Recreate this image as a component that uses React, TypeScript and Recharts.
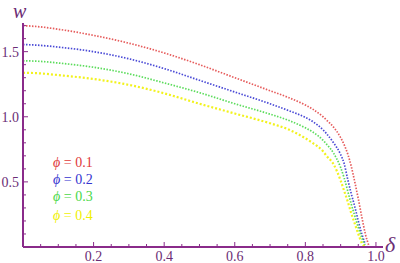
import React from 'react';
import { LineChart, Line, XAxis, YAxis } from 'recharts';

const deltas = [0, 0.05, 0.1, 0.2, 0.3, 0.4, 0.5, 0.6, 0.7, 0.75, 0.8, 0.82, 0.85, 0.86, 0.88, 0.9, 0.91, 0.92, 0.93, 0.94, 0.95, 0.96, 0.97, 0.98];
const phi01 = [1.70, 1.69, 1.672, 1.625, 1.565, 1.49, 1.40, 1.30, 1.20, 1.15, 1.09, 1.06, 1.0, 0.975, 0.92, 0.84, 0.785, 0.715, 0.62, 0.50, 0.37, 0.23, 0.10, 0.01];
const phi02 = [1.555, 1.548, 1.535, 1.50, 1.445, 1.37, 1.28, 1.19, 1.10, 1.05, 0.995, 0.965, 0.90, 0.87, 0.80, 0.71, 0.64, 0.52, 0.41, 0.31, 0.20, 0.10, 0.02, null];
const phi03 = [1.43, 1.425, 1.413, 1.38, 1.33, 1.26, 1.185, 1.10, 1.02, 0.975, 0.915, 0.885, 0.82, 0.79, 0.72, 0.61, 0.53, 0.43, 0.33, 0.24, 0.15, 0.07, 0.0, null];
const phi04 = [1.338, 1.333, 1.32, 1.29, 1.245, 1.18, 1.10, 1.025, 0.95, 0.905, 0.835, 0.80, 0.735, 0.70, 0.635, 0.51, 0.43, 0.35, 0.26, 0.18, 0.10, 0.03, 0.0, null];

const xTicks = [0.05, 0.1, 0.15, 0.2, 0.25, 0.3, 0.35, 0.4, 0.45, 0.5, 0.55, 0.6, 0.65, 0.7, 0.75, 0.8, 0.85, 0.9, 0.95, 1.0];
const xMajor = [0.2, 0.4, 0.6, 0.8, 1.0];
const yTicks = [0.1, 0.2, 0.3, 0.4, 0.5, 0.6, 0.7, 0.8, 0.9, 1.0, 1.1, 1.2, 1.3, 1.4, 1.5, 1.6, 1.7];
const yMajor = [0.5, 1.0, 1.5];

const legendLabels = ['0.1', '0.2', '0.3', '0.4'];
const colors = ['#e65c5c', '#4a4ad6', '#5cdc5c', '#f2f21e'];
const legendColors = ['#e03a3a', '#3434d0', '#48d848', '#f0f000'];

const data = deltas.map((d, i) => ({ d, a: phi01[i], b: phi02[i], c: phi03[i], e: phi04[i] }));

const AXIS = '#8a2b8a';
const LABEL = '#6b2d75';
const FONT = 'Liberation Serif, serif';

const isMajor = (v: number, list: number[]) => list.some((m) => Math.abs(m - v) < 1e-6);

const XTick = (props: any) => {
  const { x, y, payload } = props;
  const major = isMajor(payload.value, xMajor);
  return (
    <g>
      <line x1={x} x2={x} y1={y} y2={y - (major ? 5 : 3)} stroke={AXIS} strokeWidth={1} />
      {major && (
        <text x={x} y={y + 14} textAnchor="middle" style={{ fontFamily: FONT, fontSize: 14 }} fill={LABEL}>
          {payload.value.toFixed(1)}
        </text>
      )}
    </g>
  );
};

const YTick = (props: any) => {
  const { x, y, payload } = props;
  const major = isMajor(payload.value, yMajor);
  return (
    <g>
      <line x1={x} x2={x + (major ? 5 : 3)} y1={y} y2={y} stroke={AXIS} strokeWidth={1} />
      {major && (
        <text x={x - 4} y={y + 5} textAnchor="end" style={{ fontFamily: FONT, fontSize: 14 }} fill={LABEL}>
          {payload.value.toFixed(1)}
        </text>
      )}
    </g>
  );
};

export default function App() {
  return (
    <div style={{ position: 'absolute', left: 0, top: 0, width: 400, height: 263, background: '#fff', fontFamily: FONT }}>
      <LineChart width={400} height={263} data={data} margin={{ top: 23, right: 17, left: 0, bottom: 0 }}>
        <XAxis
          dataKey="d"
          type="number"
          domain={[0, 1.02]}
          ticks={xTicks}
          interval={0}
          height={16}
          tickSize={0}
          tickMargin={0}
          tickLine={false}
          axisLine={{ stroke: AXIS, strokeWidth: 2 }}
          tick={<XTick />}
        />
        <YAxis
          type="number"
          domain={[0, 1.72]}
          ticks={yTicks}
          interval={0}
          width={23}
          tickSize={0}
          tickMargin={0}
          tickLine={false}
          axisLine={{ stroke: AXIS, strokeWidth: 2 }}
          tick={<YTick />}
        />
        <Line dataKey="a" stroke={colors[0]} strokeWidth={1.7} strokeDasharray="1.5 1.5" dot={false} type="monotone" isAnimationActive={false} />
        <Line dataKey="b" stroke={colors[1]} strokeWidth={1.7} strokeDasharray="1.5 1.5" dot={false} type="monotone" isAnimationActive={false} />
        <Line dataKey="c" stroke={colors[2]} strokeWidth={1.7} strokeDasharray="1.5 1.5" dot={false} type="monotone" isAnimationActive={false} />
        <Line dataKey="e" stroke={colors[3]} strokeWidth={2.2} strokeDasharray="2 2" dot={false} type="monotone" isAnimationActive={false} />
      </LineChart>
      <svg width={400} height={263} style={{ position: 'absolute', left: 0, top: 0, pointerEvents: 'none' }}>
        <text x={13} y={18} style={{ fontFamily: FONT, fontSize: 20, fontStyle: 'italic' }} fill={LABEL}>w</text>
        <text x={385} y={252} style={{ fontFamily: FONT, fontSize: 22, fontStyle: 'italic' }} fill={LABEL}>δ</text>
        {legendLabels.map((l, i) => (
          <text key={l} x={53} y={[167, 184, 201, 220][i]} style={{ fontFamily: FONT, fontSize: 14 }} fill={legendColors[i]}>
            <tspan style={{ fontStyle: 'italic' }}>ϕ</tspan>
            {' = ' + l}
          </text>
        ))}
      </svg>
    </div>
  );
}
